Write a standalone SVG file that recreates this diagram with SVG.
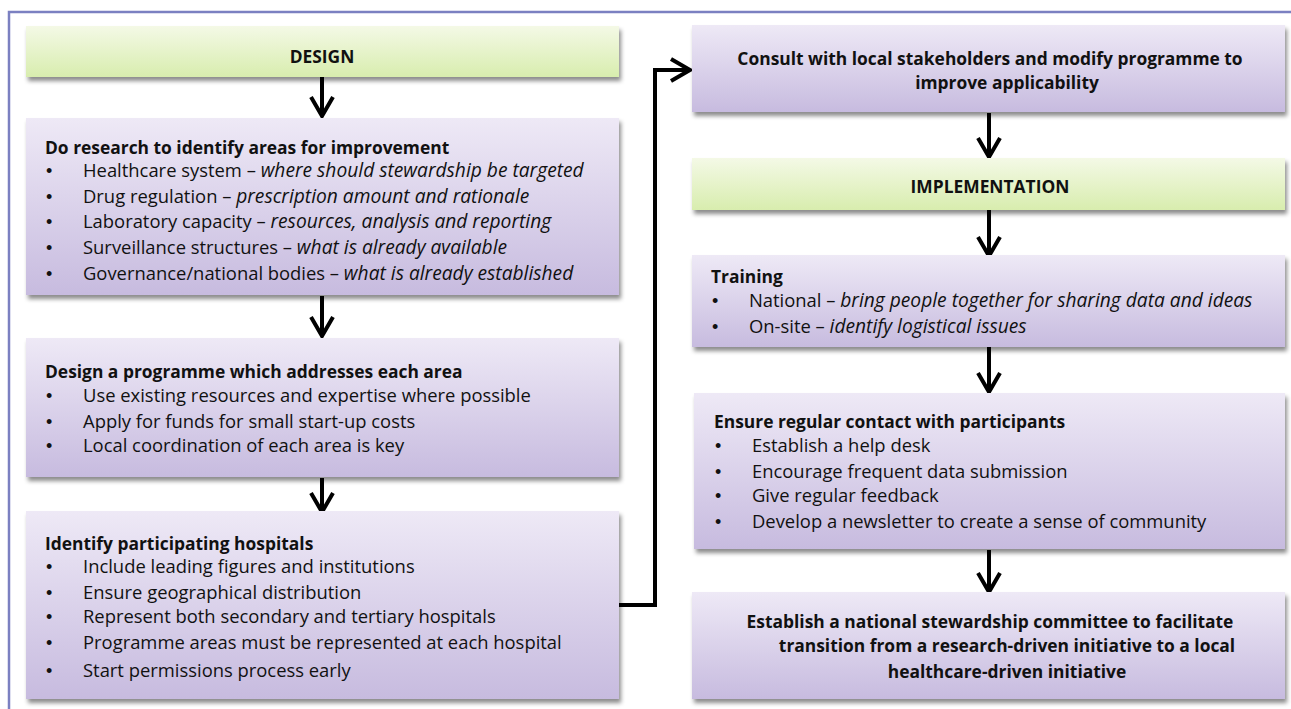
<svg xmlns="http://www.w3.org/2000/svg" width="1291" height="709" viewBox="0 0 1291 709">
<defs>
<linearGradient id="gPurple" x1="0" y1="0" x2="0" y2="1">
<stop offset="0" stop-color="#eee9f6"/>
<stop offset="1" stop-color="#c7bbdf"/>
</linearGradient>
<linearGradient id="gGreen" x1="0" y1="0" x2="0" y2="1">
<stop offset="0" stop-color="#f4f9e6"/>
<stop offset="1" stop-color="#d8edae"/>
</linearGradient>
<filter id="shadow" x="-5%" y="-10%" width="112%" height="130%">
<feDropShadow dx="2" dy="4" stdDeviation="2" flood-color="#000" flood-opacity="0.45"/>
</filter>
<marker id="chev" viewBox="0 0 26 26" markerWidth="26" markerHeight="26" refX="22" refY="13" orient="auto" markerUnits="userSpaceOnUse">
<path d="M3,2 L22,13 L3,24" fill="none" stroke="#000" stroke-width="4"/>
</marker>
</defs>
<style>
.box{fill:url(#gPurple);filter:url(#shadow);}
.phase{fill:url(#gGreen);filter:url(#shadow);}
text{font-family:"Open Sans",Lato,"DejaVu Sans",sans-serif;font-size:18.4px;fill:#111;}
.t{font-weight:bold;font-size:17.4px;}
.c{text-anchor:middle;font-weight:bold;font-size:17.4px;}
.i{font-style:italic;font-size:19.2px;}
.b{font-family:"Liberation Sans",Arial,sans-serif;font-size:18px;}
.conn{fill:none;stroke:#000;stroke-width:4;marker-end:url(#chev);}
</style>
<rect width="1291" height="709" fill="#fff"/>
<path d="M9,709 V12 H1291" fill="none" stroke="#7b80c1" stroke-width="2.5"/>

<g id="connectors">
<line class="conn" x1="322" y1="77" x2="322" y2="116"/>
<line class="conn" x1="322" y1="296" x2="322" y2="336"/>
<line class="conn" x1="322" y1="478" x2="322" y2="512"/>
<path class="conn" d="M619,605 H655 V70 H690"/>
<line class="conn" x1="989" y1="113" x2="989" y2="157"/>
<line class="conn" x1="989" y1="210" x2="989" y2="256"/>
<line class="conn" x1="989" y1="347" x2="989" y2="392"/>
<line class="conn" x1="989" y1="550" x2="989" y2="592"/>
</g>

<g id="design">
<rect class="phase" x="26" y="26" width="593" height="51"/>
<text class="c" x="322" y="63">DESIGN</text>
</g>

<g id="research">
<rect class="box" x="26" y="118" width="593" height="177"/>
<text class="t" x="45" y="154">Do research to identify areas for improvement</text>
<text class="b" x="46" y="177">•</text><text x="83" y="177">Healthcare system – <tspan class="i">where should stewardship be targeted</tspan></text>
<text class="b" x="46" y="203">•</text><text x="83" y="203">Drug regulation – <tspan class="i">prescription amount and rationale</tspan></text>
<text class="b" x="46" y="228">•</text><text x="83" y="228">Laboratory capacity – <tspan class="i">resources, analysis and reporting</tspan></text>
<text class="b" x="46" y="254">•</text><text x="83" y="254">Surveillance structures – <tspan class="i">what is already available</tspan></text>
<text class="b" x="46" y="280">•</text><text x="83" y="280">Governance/national bodies – <tspan class="i">what is already established</tspan></text>
</g>

<g id="programme">
<rect class="box" x="26" y="338" width="593" height="139"/>
<text class="t" x="45" y="378">Design a programme which addresses each area</text>
<text class="b" x="46" y="402">•</text><text x="83" y="402">Use existing resources and expertise where possible</text>
<text class="b" x="46" y="428">•</text><text x="83" y="428">Apply for funds for small start-up costs</text>
<text class="b" x="46" y="452">•</text><text x="83" y="452">Local coordination of each area is key</text>
</g>

<g id="hospitals">
<rect class="box" x="26" y="511" width="593" height="188"/>
<text class="t" x="45" y="550">Identify participating hospitals</text>
<text class="b" x="46" y="573">•</text><text x="83" y="573">Include leading figures and institutions</text>
<text class="b" x="46" y="599">•</text><text x="83" y="599">Ensure geographical distribution</text>
<text class="b" x="46" y="623">•</text><text x="83" y="623">Represent both secondary and tertiary hospitals</text>
<text class="b" x="46" y="649">•</text><text x="83" y="649">Programme areas must be represented at each hospital</text>
<text class="b" x="46" y="677">•</text><text x="83" y="677">Start permissions process early</text>
</g>

<g id="consult">
<rect class="box" x="692" y="25" width="593" height="87"/>
<text class="c" x="990" y="65">Consult with local stakeholders and modify programme to</text>
<text class="c" x="1007" y="89">improve applicability</text>
</g>

<g id="implementation">
<rect class="phase" x="692" y="158" width="593" height="52"/>
<text class="c" x="990" y="193">IMPLEMENTATION</text>
</g>

<g id="training">
<rect class="box" x="692" y="255" width="593" height="92"/>
<text class="t" x="711" y="283">Training</text>
<text class="b" x="712" y="307">•</text><text x="749" y="307">National – <tspan class="i">bring people together for sharing data and ideas</tspan></text>
<text class="b" x="712" y="333">•</text><text x="749" y="333">On-site – <tspan class="i">identify logistical issues</tspan></text>
</g>

<g id="contact">
<rect class="box" x="694" y="393" width="591" height="156"/>
<text class="t" x="714" y="428">Ensure regular contact with participants</text>
<text class="b" x="715" y="452">•</text><text x="752" y="452">Establish a help desk</text>
<text class="b" x="715" y="478">•</text><text x="752" y="478">Encourage frequent data submission</text>
<text class="b" x="715" y="502">•</text><text x="752" y="502">Give regular feedback</text>
<text class="b" x="715" y="528">•</text><text x="752" y="528">Develop a newsletter to create a sense of community</text>
</g>

<g id="committee">
<rect class="box" x="692" y="592" width="593" height="107"/>
<text class="c" x="990" y="628">Establish a national stewardship committee to facilitate</text>
<text class="c" x="1007" y="652">transition from a research-driven initiative to a local</text>
<text class="c" x="1007" y="678">healthcare-driven initiative</text>
</g>
</svg>
